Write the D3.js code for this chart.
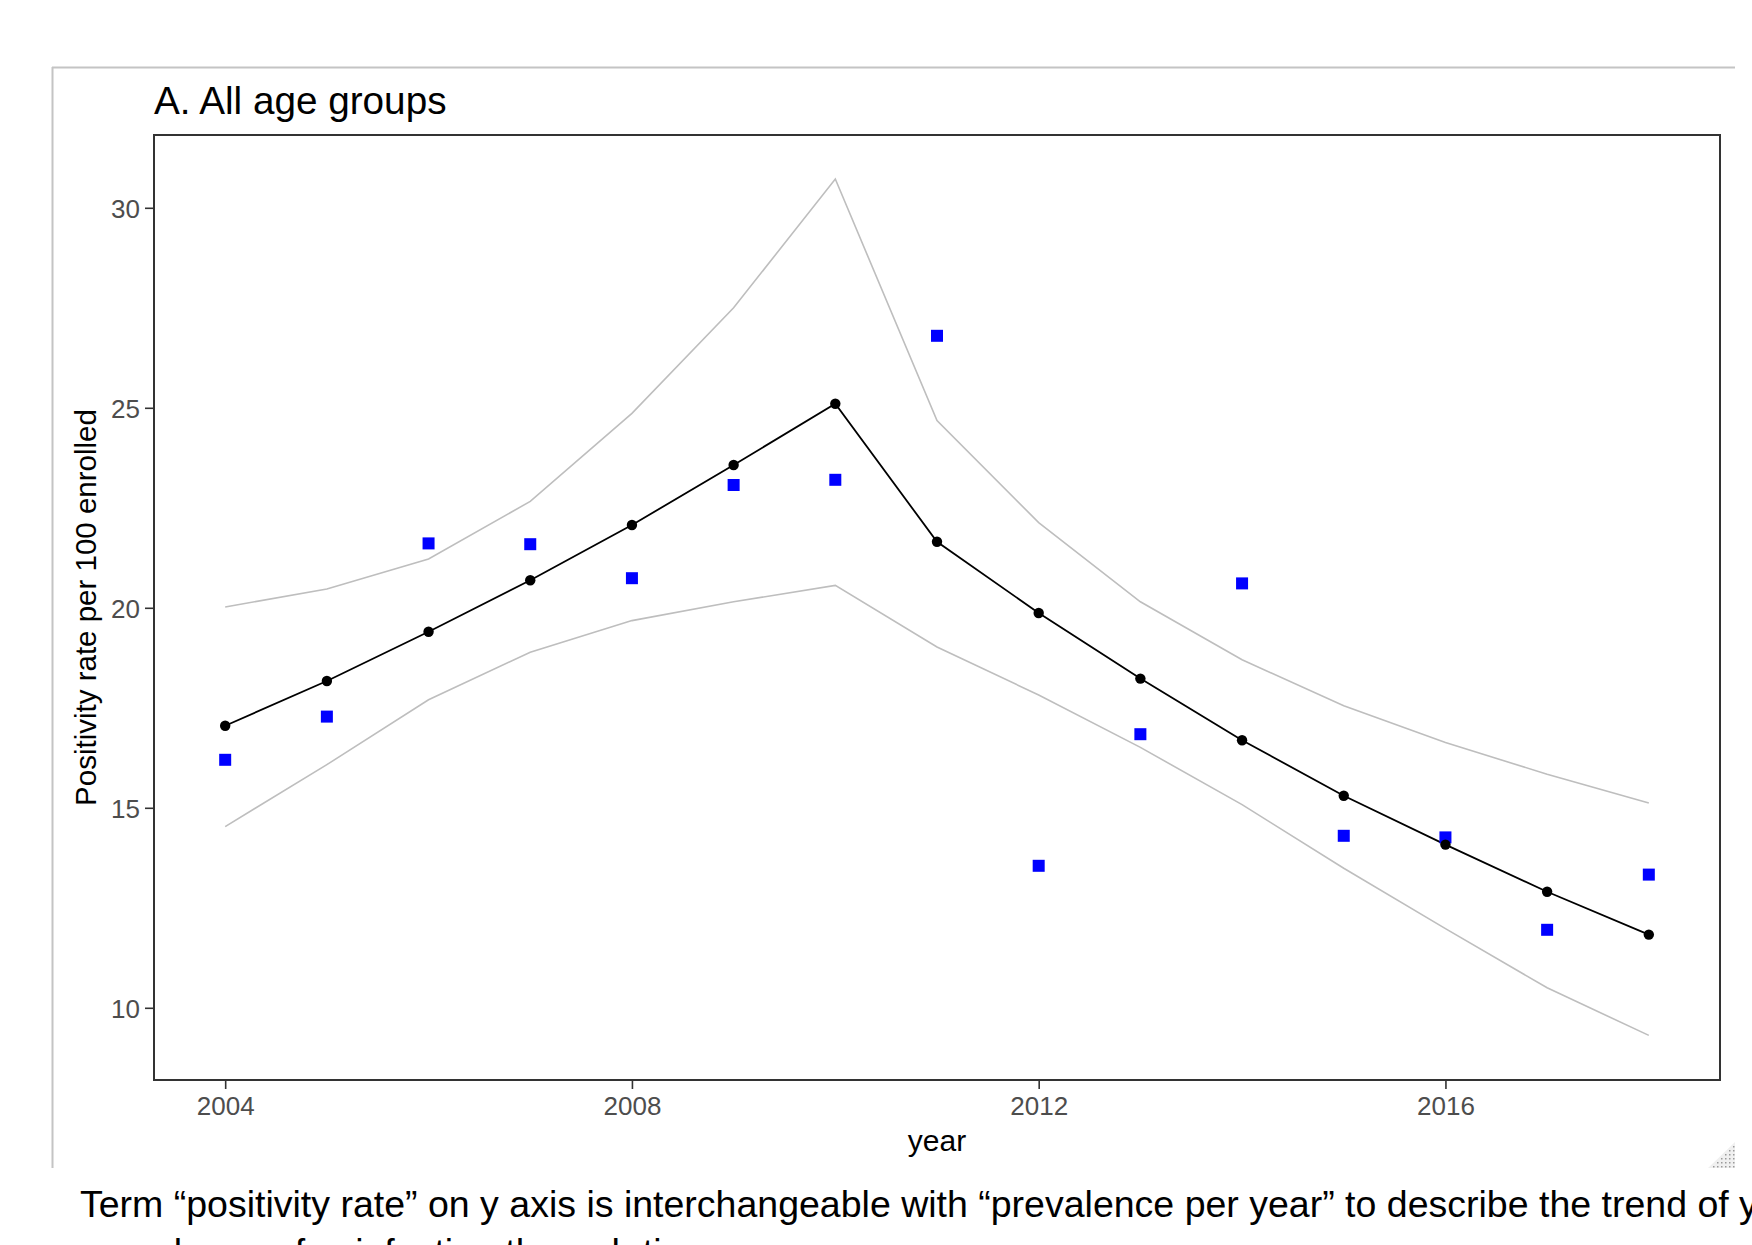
<!DOCTYPE html>
<html lang="en">

<head>
    <meta charset="UTF-8">
    <title>A. All age groups</title>
    <style>
        body {
            padding: 0;
            margin: 0;
            width: 1752px;
            height: 1245px;
            overflow: hidden;
            background: #fff;
        }
        text {
            font-family: "Liberation Sans", Arial, sans-serif;
        }
    </style>
</head>

<body>
    <script src="https://d3js.org/d3.v7.min.js"></script>
    <script>
        // data
        const years = [2004, 2005, 2006, 2007, 2008, 2009, 2010, 2011, 2012, 2013, 2014, 2015, 2016, 2017, 2018];
        const fitted = [17.05, 18.17, 19.40, 20.69, 22.07, 23.57, 25.10, 21.65, 19.87, 18.23, 16.69, 15.30, 14.08, 12.90, 11.83];
        const observed = [16.20, 17.28, 21.61, 21.59, 20.74, 23.07, 23.20, 26.80, 13.55, 16.84, 20.61, 14.30, 14.26, 11.95, 13.33];
        const upper = [20.02, 20.47, 21.22, 22.66, 24.86, 27.50, 30.72, 24.68, 22.13, 20.15, 18.70, 17.55, 16.63, 15.84, 15.12];
        const lower = [14.53, 16.08, 17.70, 18.89, 19.68, 20.15, 20.56, 19.02, 17.82, 16.51, 15.08, 13.49, 11.98, 10.50, 9.31];
        const xTicks = [2004, 2008, 2012, 2016];
        const yTicks = [10, 15, 20, 25, 30];

        const width = 1752;
        const height = 1245;

        const svg = d3.select('body')
            .append('svg')
            .attr('width', width)
            .attr('height', height);

        // viewer frame (grey top + left border)
        svg.append('line')
            .attr('x1', 52).attr('x2', 1735).attr('y1', 67.5).attr('y2', 67.5)
            .attr('stroke', '#c4c4c4').attr('stroke-width', 2);
        svg.append('line')
            .attr('x1', 52.5).attr('x2', 52.5).attr('y1', 67).attr('y2', 1168)
            .attr('stroke', '#c4c4c4').attr('stroke-width', 2);

        // resize grip in the corner
        const grip = svg.append('g').attr('class', 'grip');
        grip.append('path')
            .attr('d', 'M1735,1142 L1735,1168 L1708,1168 Z')
            .attr('fill', '#f0f0f0');
        for (let i = 0; i < 6; i++) {
            for (let j = 0; j <= i; j++) {
                grip.append('rect')
                    .attr('x', 1733 - j * 4)
                    .attr('y', 1146 + i * 4)
                    .attr('width', 1.5).attr('height', 1.5)
                    .attr('fill', '#9a9a9a');
            }
        }

        // panel
        const pLeft = 154, pRight = 1720, pTop = 135, pBottom = 1080;

        const x = d3.scaleLinear().domain([2003.3, 2018.7]).range([pLeft, pRight]);
        const y = d3.scaleLinear().domain([8.195, 31.82]).range([pBottom, pTop]);

        // title
        svg.append('text')
            .attr('x', pLeft)
            .attr('y', 114)
            .attr('font-size', 38.7)
            .attr('fill', '#000')
            .text('A. All age groups');

        // axes
        const xAxis = d3.axisBottom(x).tickValues(xTicks).tickFormat(d3.format('d')).tickSize(9).tickPadding(8);
        const yAxis = d3.axisLeft(y).tickValues(yTicks).tickSize(9).tickPadding(5);

        const gx = svg.append('g')
            .attr('transform', `translate(0,${pBottom})`)
            .call(xAxis);
        const gy = svg.append('g')
            .attr('transform', `translate(${pLeft},0)`)
            .call(yAxis);
        [gx, gy].forEach(g => {
            g.select('.domain').remove();
            g.selectAll('line').attr('stroke', '#333').attr('stroke-width', 1.6);
            g.selectAll('text')
                .attr('fill', '#4d4d4d')
                .attr('font-size', 26)
                .attr('font-family', '"Liberation Sans", Arial, sans-serif');
        });
        gy.selectAll('text').attr('dy', '0.36em');

        // grey interval lines
        const line = d3.line()
            .x(d => x(d[0]))
            .y(d => y(d[1]));

        [upper, lower].forEach(band => {
            svg.append('path')
                .datum(years.map((yr, i) => [yr, band[i]]))
                .attr('d', line)
                .attr('fill', 'none')
                .attr('stroke', '#bebebe')
                .attr('stroke-width', 1.6);
        });

        // fitted line
        svg.append('path')
            .datum(years.map((yr, i) => [yr, fitted[i]]))
            .attr('d', line)
            .attr('fill', 'none')
            .attr('stroke', '#000')
            .attr('stroke-width', 1.8);

        // observed squares
        svg.append('g')
            .selectAll('rect')
            .data(years.map((yr, i) => [yr, observed[i]]))
            .join('rect')
            .attr('x', d => x(d[0]) - 6)
            .attr('y', d => y(d[1]) - 6)
            .attr('width', 12)
            .attr('height', 12)
            .attr('fill', '#0000ff');

        // fitted points
        svg.append('g')
            .selectAll('circle')
            .data(years.map((yr, i) => [yr, fitted[i]]))
            .join('circle')
            .attr('cx', d => x(d[0]))
            .attr('cy', d => y(d[1]))
            .attr('r', 5.2)
            .attr('fill', '#000');

        // panel border
        svg.append('rect')
            .attr('x', pLeft)
            .attr('y', pTop)
            .attr('width', pRight - pLeft)
            .attr('height', pBottom - pTop)
            .attr('fill', 'none')
            .attr('stroke', '#333')
            .attr('stroke-width', 2);

        // axis titles
        svg.append('text')
            .attr('x', (pLeft + pRight) / 2)
            .attr('y', 1151)
            .attr('text-anchor', 'middle')
            .attr('font-size', 30)
            .attr('fill', '#000')
            .text('year');

        svg.append('text')
            .attr('transform', `translate(96,${(pTop + pBottom) / 2}) rotate(-90)`)
            .attr('text-anchor', 'middle')
            .attr('font-size', 29.5)
            .attr('fill', '#000')
            .text('Positivity rate per 100 enrolled');

        // caption under the figure (runs off the right and bottom edge, as in the screenshot)
        const caption = svg.append('text')
            .attr('x', 80)
            .attr('y', 1217)
            .attr('font-size', 37.5)
            .attr('fill', '#000');
        caption.append('tspan')
            .attr('x', 80)
            .text('Term “positivity rate” on y axis is interchangeable with “prevalence per year” to describe the trend of yearly');
        caption.append('tspan')
            .attr('x', 80)
            .attr('dy', 48)
            .text('prevalence of coinfection through time.');
    </script>

</body>

</html>
